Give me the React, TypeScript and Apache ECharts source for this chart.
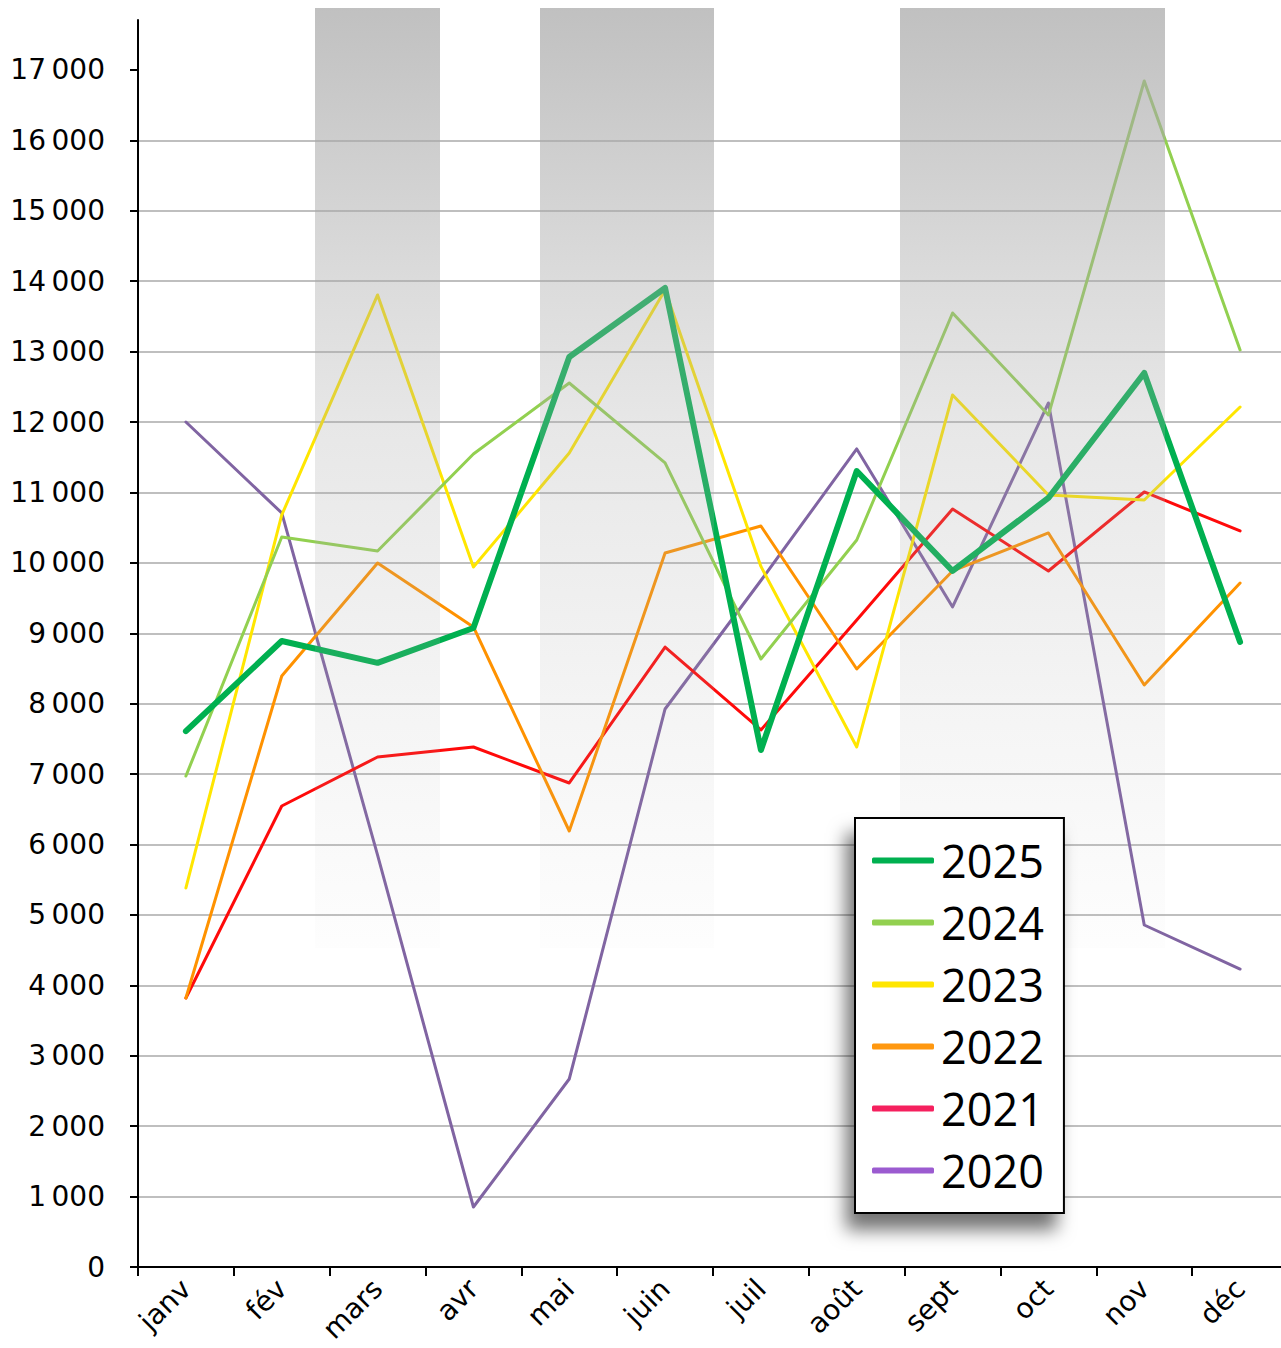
import React, { useEffect, useRef } from "react";
import * as echarts from "echarts";

const months = ["janv", "fév", "mars", "avr", "mai", "juin", "juil", "août", "sept", "oct", "nov", "déc"];
const yTicks = [0, 1000, 2000, 3000, 4000, 5000, 6000, 7000, 8000, 9000, 10000, 11000, 12000, 13000, 14000, 15000, 16000, 17000];

const s2025 = [7610, 8890, 8580, 9075, 12924, 13904, 7343, 11305, 9885, 10922, 12697, 8877];
const s2024 = [6973, 10368, 10169, 11547, 12555, 11419, 8635, 10325, 13549, 12100, 16844, 13024];
const s2023 = [5383, 10680, 13805, 9942, 11560, 13876, 9950, 7386, 12385, 10965, 10893, 12214];
const s2022 = [3820, 8394, 9998, 9090, 6192, 10140, 10524, 8493, 9885, 10425, 8266, 9714];
const s2021 = [3820, 6547, 7243, 7385, 6874, 8805, 7627, 9189, 10765, 9885, 11007, 10453];
const s2020 = [12001, 10709, 5850, 852, 2670, 7925, 9750, 11618, 9374, 12271, 4857, 4232];

const seriesDefs = [
  { name: "2020", data: s2020, color: "#8064a2", legend: "#9b5bd0", width: 3 },
  { name: "2021", data: s2021, color: "#ff0a0a", legend: "#f5205e", width: 3 },
  { name: "2022", data: s2022, color: "#ff9200", legend: "#ff9810", width: 3 },
  { name: "2023", data: s2023, color: "#ffe600", legend: "#ffe600", width: 3 },
  { name: "2024", data: s2024, color: "#92d050", legend: "#92d050", width: 3 },
  { name: "2025", data: s2025, color: "#00b050", legend: "#00b050", width: 6 },
];

const legendOrder = ["2025", "2024", "2023", "2022", "2021", "2020"];

function band(x1: number, x2: number) {
  return {
    type: "rect",
    z: 100,
    silent: true,
    shape: { x: x1, y: 8, width: x2 - x1, height: 940 },
    style: {
      fill: new echarts.graphic.LinearGradient(0, 0, 0, 1, [
        { offset: 0, color: "rgba(168,168,168,0.72)" },
        { offset: 0.3, color: "rgba(168,168,168,0.4)" },
        { offset: 0.45, color: "rgba(168,168,168,0.27)" },
        { offset: 0.75, color: "rgba(168,168,168,0.12)" },
        { offset: 1, color: "rgba(168,168,168,0.02)" },
      ]),
    },
  };
}

export default function App() {
  const ref = useRef<HTMLDivElement>(null);
  useEffect(() => {
    if (!ref.current) return;
    const chart = echarts.init(ref.current, undefined, { renderer: "svg" });
    const fmt = (v: number) => (v >= 1000 ? Math.floor(v / 1000) + "\u2009000" : String(v));
    chart.setOption({
      animation: false,
      backgroundColor: "#ffffff",
      grid: { left: 138, top: 20, width: 1150, height: 1247, containLabel: false, outerBoundsMode: "none" },
      xAxis: {
        type: "category",
        data: months,
        boundaryGap: true,
        axisLine: { show: true, lineStyle: { color: "#000", width: 2 } },
        axisTick: { show: true, alignWithLabel: false, length: 9, lineStyle: { color: "#000", width: 2 } },
        axisLabel: {
          rotate: 45,
          margin: 17,
          fontSize: 28,
          fontFamily: "DejaVu Sans",
          color: "#000",
          interval: 0,
        },
        splitLine: { show: false },
      },
      yAxis: {
        type: "value",
        min: 0,
        max: 17710,
        interval: 1000,
        axisLine: { show: true, lineStyle: { color: "#000", width: 2 } },
        axisTick: { show: true, length: 8, customValues: yTicks, lineStyle: { color: "#000", width: 2 } },
        axisLabel: {
          customValues: yTicks,
          formatter: fmt,
          fontSize: 28,
          fontFamily: "DejaVu Sans",
          color: "#000",
          margin: 33,
        },
        splitLine: { show: true, showMaxLine: false, lineStyle: { color: "#bfbfbf", width: 2 } },
      },
      legend: {
        orient: "vertical",
        left: 855,
        top: 818,
        z: 200,
        padding: [20, 20, 20, 17],
        itemGap: 17,
        itemWidth: 62,
        itemHeight: 6,
        icon: "roundRect",
        backgroundColor: "#ffffff",
        borderColor: "#000",
        borderWidth: 2,
        borderRadius: 0,
        shadowBlur: 18,
        shadowColor: "rgba(0,0,0,0.55)",
        shadowOffsetX: -8,
        shadowOffsetY: 16,
        textStyle: { fontSize: 45, fontFamily: "Open Sans", color: "#000", padding: [0, 0, 0, 2] },
        data: legendOrder.map((n) => {
          const d = seriesDefs.find((s) => s.name === n)!;
          return { name: n, itemStyle: { color: d.legend } };
        }),
      },
      graphic: [band(315, 440), band(540, 714), band(900, 1165)],
      series: seriesDefs.map((s) => ({
        name: s.name,
        type: "line",
        data: s.data,
        showSymbol: false,
        symbol: "none",
        color: s.color,
        lineStyle: { color: s.color, width: s.width, join: "round", cap: "round" },
        z: s.name === "2025" ? 5 : 3,
      })),
    });
    return () => chart.dispose();
  }, []);
  return (
    <div style={{ position: "absolute", left: 0, top: 0, width: 1281, height: 1348, overflow: "hidden" }}>
      <div ref={ref} style={{ width: 1295, height: 1348 }} />
    </div>
  );
}
